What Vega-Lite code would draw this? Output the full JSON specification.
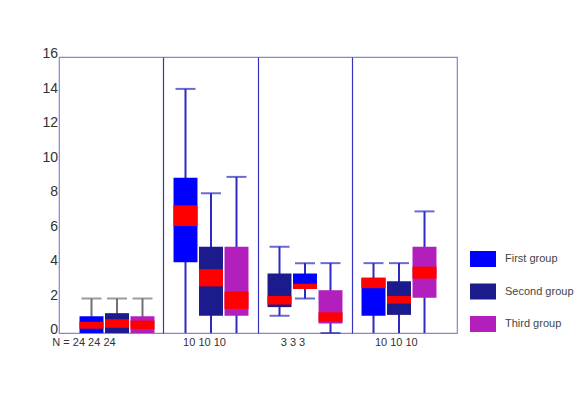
{
  "$schema": "https://vega.github.io/schema/vega-lite/v6.json",
  "width": 398,
  "height": 276,
  "autosize": "none",
  "padding": {"left": 59, "top": 57, "right": 124, "bottom": 86},
  "background": "white",
  "config": {
    "view": {"stroke": "#8686d6", "strokeWidth": 1.2},
    "font": "Liberation Sans",
    "axisY": {
      "title": null,
      "ticks": false,
      "domain": false,
      "grid": false,
      "labelOverlap": false,
      "labelFontSize": 14,
      "labelColor": "#333333",
      "labelPadding": 1.5,
      "labelOffset": -3.5
    }
  },
  "data": {
    "values": [
      {"cat": "A", "slot": "s1", "group": "First group", "lo": 0, "q1": 0, "r1": 0.25, "r2": 0.65, "q3": 0.97, "hi": 2},
      {"cat": "A", "slot": "s2", "group": "Second group", "lo": 0, "q1": 0, "r1": 0.3, "r2": 0.8, "q3": 1.15, "hi": 2},
      {"cat": "A", "slot": "s3", "group": "Third group", "lo": 0, "q1": 0, "r1": 0.22, "r2": 0.72, "q3": 0.97, "hi": 2},
      {"cat": "B", "slot": "s1", "group": "First group", "lo": 0, "q1": 4.1, "r1": 6.2, "r2": 7.4, "q3": 9.0, "hi": 14.15},
      {"cat": "B", "slot": "s2", "group": "Second group", "lo": 0, "q1": 1.0, "r1": 2.7, "r2": 3.7, "q3": 5.0, "hi": 8.1},
      {"cat": "B", "slot": "s3", "group": "Third group", "lo": 0, "q1": 1.0, "r1": 1.4, "r2": 2.4, "q3": 5.0, "hi": 9.05},
      {"cat": "C", "slot": "s1", "group": "Second group", "lo": 1, "q1": 1.5, "r1": 1.65, "r2": 2.15, "q3": 3.45, "hi": 5.0},
      {"cat": "C", "slot": "s2", "group": "First group", "lo": 2, "q1": 2.55, "r1": 2.55, "r2": 2.85, "q3": 3.45, "hi": 4.05},
      {"cat": "C", "slot": "s3", "group": "Third group", "lo": 0, "q1": 0.55, "r1": 0.65, "r2": 1.2, "q3": 2.48, "hi": 4.05},
      {"cat": "D", "slot": "s1", "group": "First group", "lo": 0, "q1": 1.0, "r1": 2.6, "r2": 3.2, "q3": 3.2, "hi": 4.05},
      {"cat": "D", "slot": "s2", "group": "Second group", "lo": 0, "q1": 1.05, "r1": 1.7, "r2": 2.15, "q3": 3.0, "hi": 4.05},
      {"cat": "D", "slot": "s3", "group": "Third group", "lo": 0, "q1": 2.05, "r1": 3.15, "r2": 3.85, "q3": 5.0, "hi": 7.05}
    ]
  },
  "encoding": {
    "x": {
      "field": "cat",
      "type": "nominal",
      "scale": {"domain": ["A", "B", "C", "D"], "paddingInner": 0, "paddingOuter": 0.117},
      "axis": {
        "title": null,
        "bandPosition": 0,
        "grid": true,
        "gridColor": "#3434c0",
        "gridWidth": 1.2,
        "gridOpacity": {"condition": {"test": "datum.value === 'A'", "value": 0}, "value": 1},
        "ticks": false,
        "domain": false,
        "labelAngle": 0,
        "labelFontSize": 11,
        "labelColor": "#333333",
        "labelPadding": 3,
        "labelOverlap": false,
        "labelExpr": "datum.value === 'A' ? 'N = 24 24 24' : datum.value === 'C' ? '3 3 3' : '10 10 10'",
        "labelOffset": {
          "condition": [
            {"test": "datum.value === 'A'", "value": -33},
            {"test": "datum.value === 'B'", "value": -6.5},
            {"test": "datum.value === 'C'", "value": -12}
          ],
          "value": -2.7
        }
      }
    },
    "xOffset": {
      "field": "slot",
      "type": "nominal",
      "scale": {"domain": ["s1", "s2", "s3"], "paddingInner": 0.06, "paddingOuter": 0.373}
    }
  },
  "layer": [
    {
      "mark": {"type": "rule", "strokeWidth": 2},
      "encoding": {
        "y": {
          "field": "lo",
          "type": "quantitative",
          "title": null,
          "scale": {"domain": [0, 16], "nice": false, "zero": false},
          "axis": {"values": [0, 2, 4, 6, 8, 10, 12, 14, 16], "labelOverlap": false}
        },
        "y2": {"field": "hi"},
        "stroke": {"condition": {"test": "datum.cat === 'A'", "value": "#707070"}, "value": "#2b2bc0"}
      }
    },
    {
      "mark": {"type": "bar"},
      "encoding": {
        "y": {"field": "q1", "type": "quantitative", "title": null, "axis": {"values": [0, 2, 4, 6, 8, 10, 12, 14, 16], "labelOverlap": false}},
        "y2": {"field": "q3"},
        "color": {
          "field": "group",
          "type": "nominal",
          "scale": {
            "domain": ["First group", "Second group", "Third group"],
            "range": ["#0000fe", "#1b1b8e", "#b21fbd"]
          },
          "legend": {
            "orient": "none",
            "legendX": 411,
            "legendY": 189,
            "title": null,
            "padding": 0,
            "symbolType": "M-1,-0.615H1V0.615H-1Z",
            "symbolSize": 676,
            "symbolStrokeWidth": 0,
            "rowPadding": 11.5,
            "labelOffset": 9,
            "labelFontSize": 11,
            "labelColor": "#444444"
          }
        }
      }
    },
    {
      "mark": {"type": "bar", "color": "#ff0000"},
      "encoding": {
        "y": {"field": "r1", "type": "quantitative", "title": null, "axis": {"values": [0, 2, 4, 6, 8, 10, 12, 14, 16], "labelOverlap": false}},
        "y2": {"field": "r2"}
      }
    },
    {
      "mark": {"type": "tick", "orient": "horizontal", "size": 20, "thickness": 2},
      "encoding": {
        "y": {"field": "hi", "type": "quantitative", "title": null, "axis": {"values": [0, 2, 4, 6, 8, 10, 12, 14, 16], "labelOverlap": false}},
        "color": {"condition": {"test": "datum.cat === 'A'", "value": "#707070"}, "value": "#2b2bc0"}
      }
    },
    {
      "transform": [{"filter": "datum.cat === 'C'"}],
      "mark": {"type": "tick", "orient": "horizontal", "size": 20, "thickness": 2, "color": "#2b2bc0"},
      "encoding": {
        "y": {"field": "lo", "type": "quantitative", "title": null, "axis": {"values": [0, 2, 4, 6, 8, 10, 12, 14, 16], "labelOverlap": false}}
      }
    }
  ]
}
